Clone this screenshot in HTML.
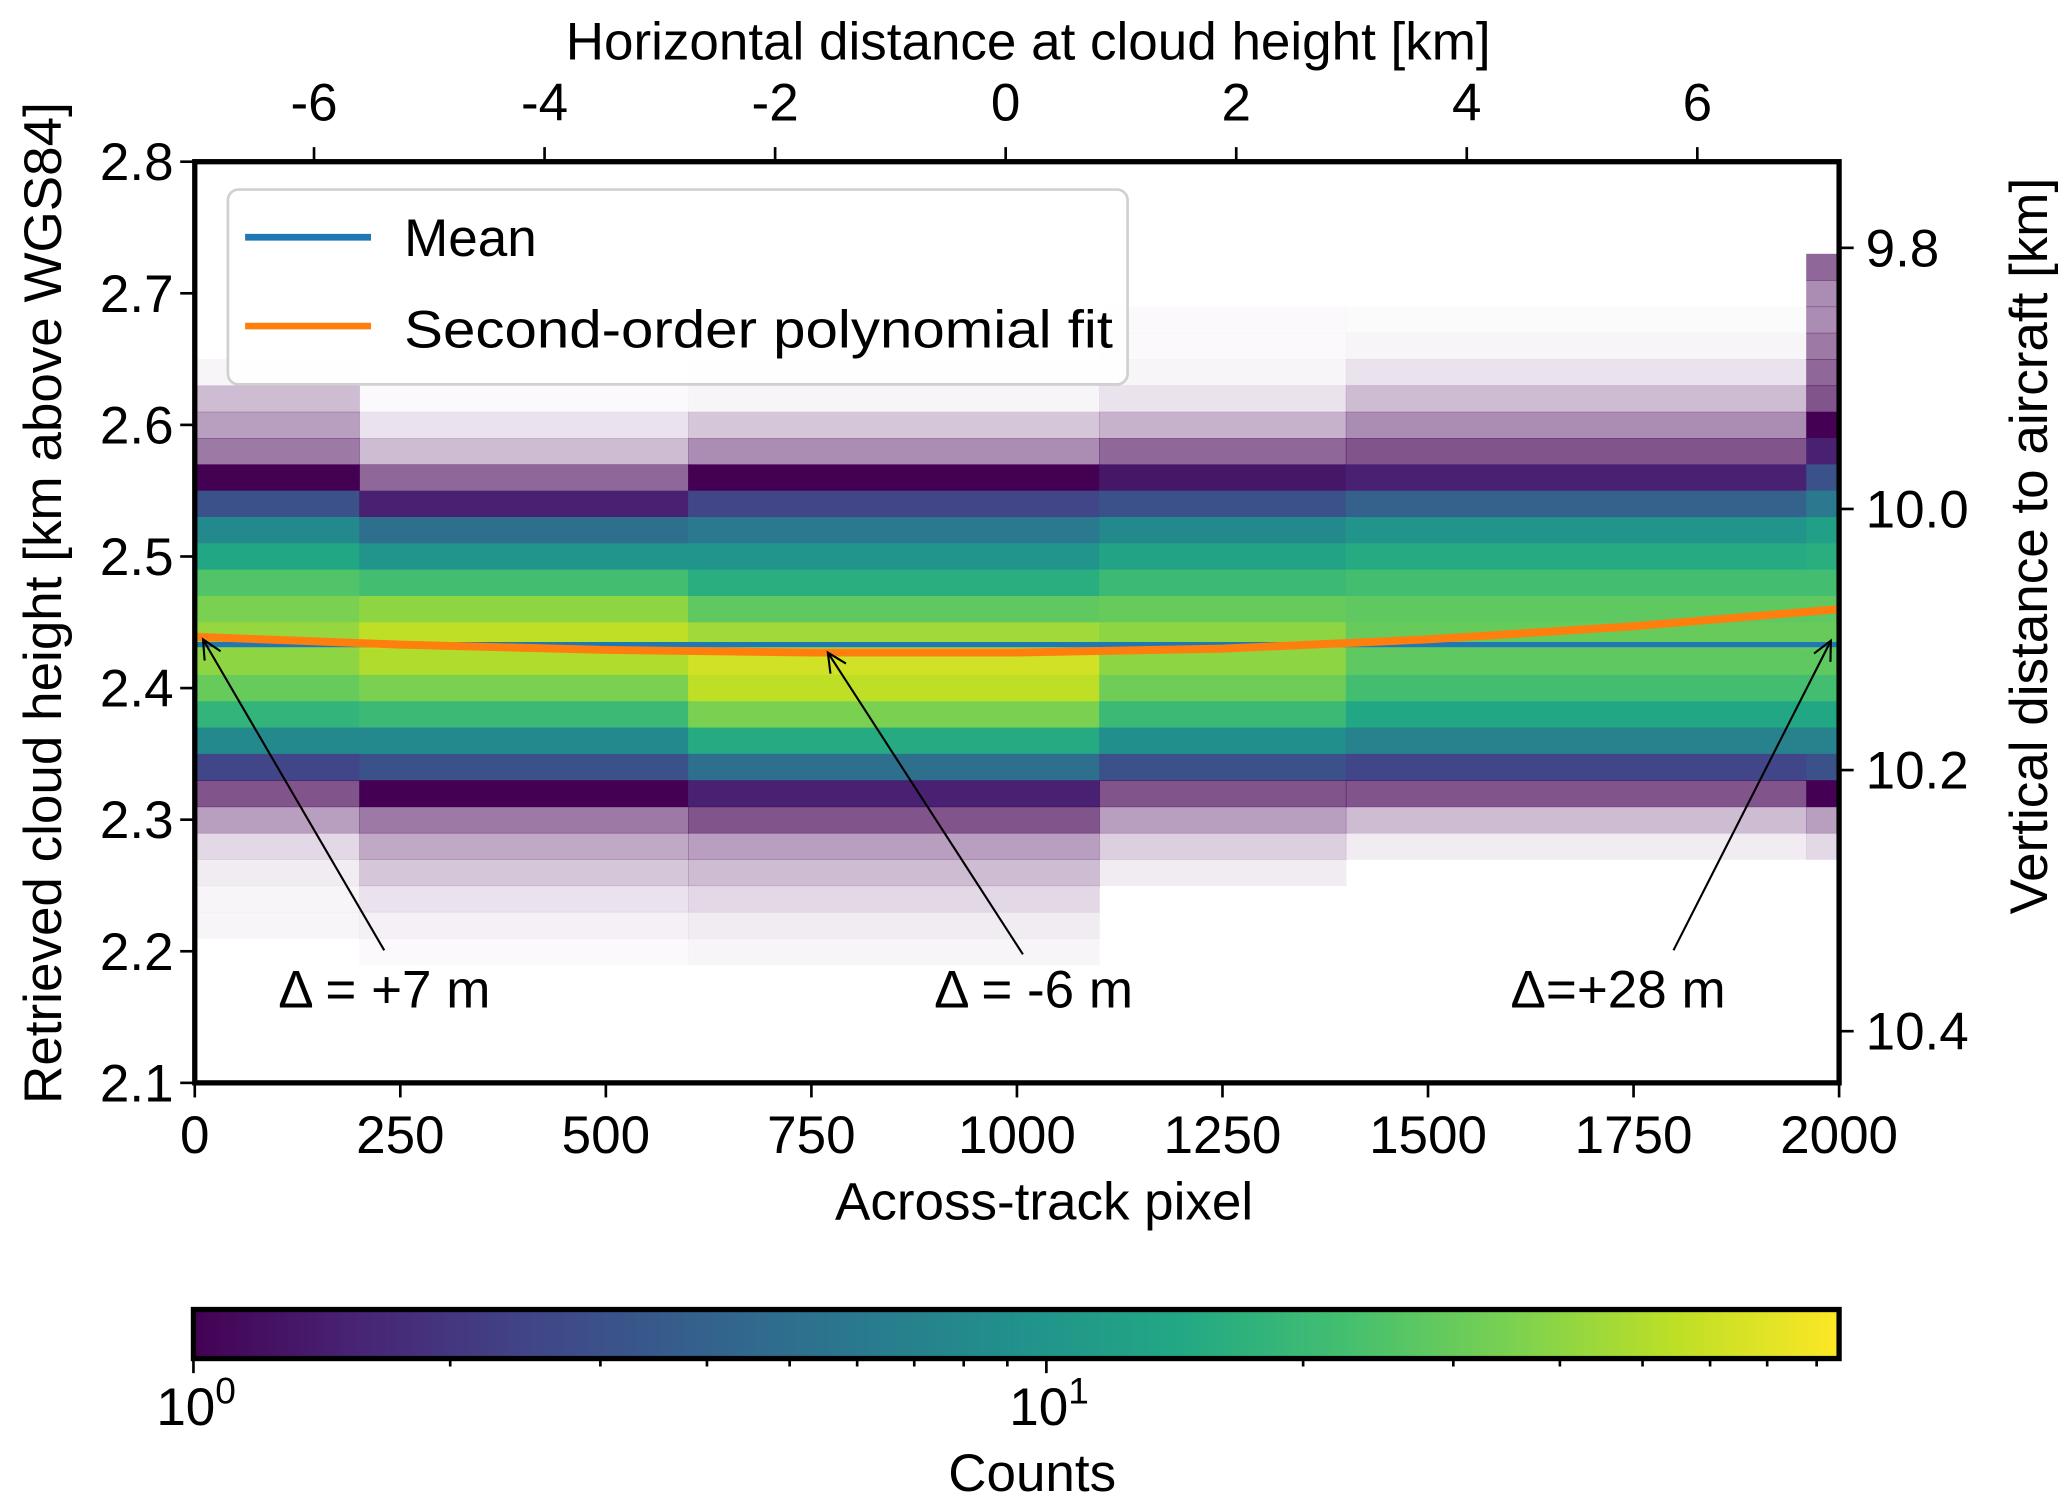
<!DOCTYPE html>
<html><head><meta charset="utf-8"><style>
html,body{margin:0;padding:0;background:#fff;}
svg{display:block;font-family:"Liberation Sans",sans-serif;}
</style></head><body>
<svg id="chart" width="2067" height="1507" viewBox="0 0 1560 1137" preserveAspectRatio="none" xmlns="http://www.w3.org/2000/svg">
<defs>
<linearGradient id="vir" x1="0" x2="1" y1="0" y2="0">
<stop offset="0" stop-color="#440154"/><stop offset="0.1" stop-color="#482475"/><stop offset="0.2" stop-color="#414487"/><stop offset="0.3" stop-color="#355f8d"/><stop offset="0.4" stop-color="#2a788e"/><stop offset="0.5" stop-color="#21918c"/><stop offset="0.6" stop-color="#22a884"/><stop offset="0.7" stop-color="#44bf70"/><stop offset="0.8" stop-color="#7ad151"/><stop offset="0.9" stop-color="#bddf26"/><stop offset="1" stop-color="#fde725"/>
</linearGradient>
<clipPath id="plotclip"><rect x="147" y="122" width="1241" height="695"/></clipPath>
</defs>
<g id="heat" clip-path="url(#plotclip)"></g>
<g id="lines" clip-path="url(#plotclip)"></g>
<g id="axes"></g>
</svg>
<script>
// ---- data ----
const colEdges = [0, 200, 600, 1100, 1400, 1960, 2000];          // across-track pixel bin edges
const rowHeights = [2.72,2.70,2.68,2.66,2.64,2.62,2.60,2.58,2.56,2.54,2.52,2.50,2.48,2.46,2.44,2.42,2.40,2.38,2.36,2.34,2.32,2.30,2.28,2.26,2.24,2.22,2.20];
const counts = [
 [0,0,0,0,0,0.8],
 [0,0,0,0,0,0.6],
 [0,0,0,0.03,0.02,0.6],
 [0,0,0,0.03,0.05,0.7],
 [0.05,0.02,0.05,0.05,0.15,0.8],
 [0.35,0.03,0.05,0.15,0.35,0.9],
 [0.5,0.15,0.3,0.4,0.6,1],
 [0.7,0.35,0.6,0.8,0.9,1.5],
 [1,0.8,1,1.3,1.5,3],
 [3,1.5,2.5,3,4,6],
 [8,5,6,8,10,12],
 [14,10,10,13,15,16],
 [25,22,16,20,22,22],
 [35,40,28,30,28,28],
 [42,55,45,40,30,30],
 [40,50,62,40,28,28],
 [30,35,55,32,22,22],
 [18,20,35,20,14,14],
 [8,8,15,9,7,7],
 [2.5,3,5,3,2.5,3],
 [0.9,1,1.5,0.9,0.9,1],
 [0.5,0.7,0.9,0.5,0.35,0.5],
 [0.2,0.45,0.5,0.25,0.1,0.2],
 [0.1,0.3,0.35,0.1,0,0],
 [0.05,0.15,0.2,0,0,0],
 [0.05,0.08,0.1,0,0,0],
 [0,0.03,0.05,0,0,0]
];
const meanHeight = 2.433;
const fitX = [0,250,500,750,1000,1250,1500,1750,2000];
const fitY = [2.439,2.433,2.429,2.427,2.427,2.430,2.437,2.447,2.460];
const xTicks = [0,250,500,750,1000,1250,1500,1750,2000];
const yTicks = [2.1,2.2,2.3,2.4,2.5,2.6,2.7,2.8];
const topTicks = [-6,-4,-2,0,2,4,6];
const rightTicks = [9.8,10.0,10.2,10.4];
const annPixel = [10, 770, 1990];
const annHeight = [2.437, 2.427, 2.436];
const annLabels = ["Δ = +7  m", "Δ = -6  m", "Δ=+28 m"];
const cbMax = 85;

// ---- scales ----
const X = p => 147 + p * (1241/2000);
const Y = v => 817 - (v - 2.1) / 0.7 * 695;
const XT = k => 759 + k * 87;
const YR = v => 187 + (v - 9.8) * 985;
const CB = c => 146 + Math.log10(c) / Math.log10(cbMax) * 1242;
const NS = "http://www.w3.org/2000/svg";
const vir = ["#440154","#482475","#414487","#355f8d","#2a788e","#21918c","#22a884","#44bf70","#7ad151","#bddf26","#fde725"];
function hex(h){return [1,3,5].map(i=>parseInt(h.substr(i,2),16));}
function color(c){
  let t = Math.min(1, Math.log10(c)/Math.log10(cbMax))*10;
  let i = Math.min(9, Math.floor(t)), f = t - i;
  let a = hex(vir[i]), b = hex(vir[i+1]);
  return "rgb(" + a.map((v,k)=>Math.round(v+(b[k]-v)*f)).join(",") + ")";
}
function mk(tag, attrs, parent, txt){
  const e = document.createElementNS(NS, tag);
  for (const k in attrs) e.setAttribute(k, attrs[k]);
  if (txt !== undefined) e.textContent = txt;
  parent.appendChild(e); return e;
}
const heat = document.getElementById('heat');
const lines = document.getElementById('lines');
const axes = document.getElementById('axes');

// heatmap
rowHeights.forEach((h, r) => {
  for (let g = 0; g < colEdges.length - 1; g++) {
    const c = counts[r][g];
    if (!c) continue;
    const x0 = X(colEdges[g]), x1 = X(colEdges[g+1]);
    const y0 = Y(h + 0.01), y1 = Y(h - 0.01);
    const el = mk('rect', {x:x0, y:y0, width:x1-x0+0.5, height:y1-y0+0.5,
      fill: c < 1 ? "#440154" : color(c), 'fill-opacity': c < 1 ? c*0.75 : 1}, heat);
    
    
  }
});

// mean and fit
const mean = mk('line', {x1:X(0), x2:X(2000), y1:Y(meanHeight), y2:Y(meanHeight), stroke:"#1f77b4", 'stroke-width':4}, lines);


const fit = mk('polyline', {points: fitX.map((x,i)=>X(x)+","+Y(fitY[i])).join(" "), fill:"none", stroke:"#ff7f0e", 'stroke-width':6}, lines);



// annotations
const annText = [[210,760],[705,760],[1140,760]];
const annStart = [[290,717],[772,720],[1263,717]];
annPixel.forEach((p, i) => {
  const tx = X(p), ty = Y(annHeight[i]);
  const [sx, sy] = annStart[i];
  const ln = mk('line', {x1:sx, y1:sy, x2:tx, y2:ty, stroke:"#000", 'stroke-width':1.6}, axes);
  
  
  const ang = Math.atan2(ty - sy, tx - sx);
  const hd = (a) => (tx - 16*Math.cos(ang+a)) + "," + (ty - 16*Math.sin(ang+a));
  const hp = mk('polyline', {points: hd(0.45)+" "+tx+","+ty+" "+hd(-0.45), fill:"none", stroke:"#000", 'stroke-width':1.6}, axes);
  
  
  const t = mk('text', {x:annText[i][0], y:annText[i][1], 'font-size':40}, axes, annLabels[i]);
  
  
});

// frame
const fr = mk('rect', {x:147, y:122, width:1241, height:695, fill:"none", stroke:"#000", 'stroke-width':4}, axes);



// ticks
xTicks.forEach(v => {
  const x = X(v);
  mk('line', {x1:x, x2:x, y1:817, y2:828, stroke:"#000", 'stroke-width':2}, axes);
  const t = mk('text', {x:x, y:870, 'font-size':40, 'text-anchor':'middle'}, axes, v);
  
  
});
yTicks.forEach(v => {
  const y = Y(v);
  mk('line', {x1:136, x2:147, y1:y, y2:y, stroke:"#000", 'stroke-width':2}, axes);
  const t = mk('text', {x:131, y:y+14, 'font-size':40, 'text-anchor':'end'}, axes, v.toFixed(1));
  
  
});
topTicks.forEach(v => {
  const x = XT(v);
  mk('line', {x1:x, x2:x, y1:111, y2:122, stroke:"#000", 'stroke-width':2}, axes);
  const t = mk('text', {x:x, y:91, 'font-size':40, 'text-anchor':'middle'}, axes, v);
  
  
});
rightTicks.forEach(v => {
  const y = YR(v);
  mk('line', {x1:1388, x2:1399, y1:y, y2:y, stroke:"#000", 'stroke-width':2}, axes);
  const t = mk('text', {x:1408, y:y+14, 'font-size':40}, axes, v.toFixed(1));
  
  
});

// colorbar
const cb = mk('rect', {x:146, y:988, width:1242, height:37, fill:"url(#vir)", stroke:"#000", 'stroke-width':4}, axes);


[1,2,3,4,5,6,7,8,9,10,20,30,40,50,60,70,80].forEach(c => {
  const x = CB(c), major = (c === 1 || c === 10);
  mk('line', {x1:x, x2:x, y1:1025, y2:major?1036:1031, stroke:"#000", 'stroke-width':2}, axes);
});
[[1,"0"],[10,"1"]].forEach(([c,e]) => {
  const t = mk('text', {x:CB(c)-28, y:1075, 'font-size':40}, axes);
  
  
  const a = document.createElementNS(NS,'tspan'); a.textContent = "10"; t.appendChild(a);
  const b = document.createElementNS(NS,'tspan'); b.textContent = e; b.setAttribute('font-size', 28); b.setAttribute('dy', -16); t.appendChild(b);
});
</script>
<svg style="position:absolute;left:0;top:0" width="2067" height="1507" viewBox="0 0 1560 1137" preserveAspectRatio="none" xmlns="http://www.w3.org/2000/svg" font-family="Liberation Sans, sans-serif">
  <g>
    <rect x="172" y="143" width="679" height="147" rx="8" fill="#fff" fill-opacity="0.85" stroke="#d0d0d0" stroke-width="2"/>
    <line x1="185" x2="280" y1="179" y2="179" stroke="#1f77b4" stroke-width="5"/>
    <text x="305" y="193" font-size="40">Mean</text>
    <line x1="185" x2="280" y1="246" y2="246" stroke="#ff7f0e" stroke-width="5"/>
    <text x="305" y="262" font-size="40" textLength="535" lengthAdjust="spacingAndGlyphs">Second-order polynomial fit</text>
  </g>
  <text x="776" y="45" font-size="40" text-anchor="middle">Horizontal distance at cloud height [km]</text>
  <text x="788" y="920" font-size="40" text-anchor="middle">Across-track pixel</text>
  <text transform="translate(46,455) rotate(-90)" font-size="40" text-anchor="middle">Retrieved cloud height [km above WGS84]</text>
  <text transform="translate(1545,412) rotate(-90)" font-size="40" text-anchor="middle">Vertical distance to aircraft [km]</text>
  <text x="779" y="1125" font-size="40" text-anchor="middle">Counts</text>
</svg>
</body></html>
